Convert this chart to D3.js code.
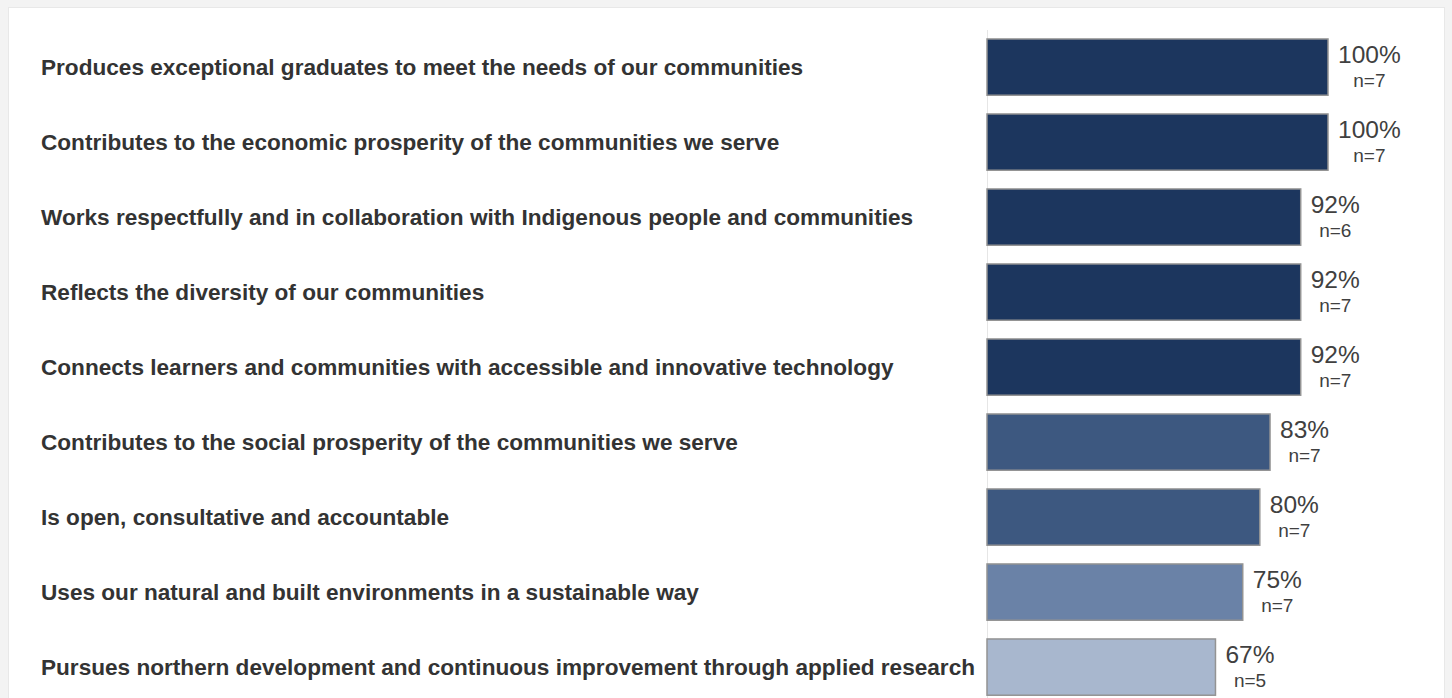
<!DOCTYPE html>
<html>
<head>
<meta charset="utf-8">
<script src="https://cdn.jsdelivr.net/npm/d3@7"></script>
<style>
  html, body { margin: 0; padding: 0; background: #f3f3f3; }
  svg { display: block; }
</style>
</head>
<body>
<script>
// Survey statements, share agreeing, and number of respondents
const categories = [
  "Produces exceptional graduates to meet the needs of our communities",
  "Contributes to the economic prosperity of the communities we serve",
  "Works respectfully and in collaboration with Indigenous people and communities",
  "Reflects the diversity of our communities",
  "Connects learners and communities with accessible and innovative technology",
  "Contributes to the social prosperity of the communities we serve",
  "Is open, consultative and accountable",
  "Uses our natural and built environments in a sustainable way",
  "Pursues northern development and continuous improvement through applied research"
];
const values = [100, 100, 92, 92, 92, 83, 80, 75, 67];
const counts = [7, 7, 6, 7, 7, 7, 7, 7, 5];

const W = 1452, H = 698;
const svg = d3.select("body").append("svg").attr("width", W).attr("height", H);

// white card on a light grey page
svg.append("rect")
  .attr("x", 8.5).attr("y", 7.5)
  .attr("width", 1436).attr("height", H)
  .attr("fill", "#ffffff")
  .attr("stroke", "#e8e8e8").attr("stroke-width", 1);

const data = categories.map((c, i) => ({ c, v: values[i], n: counts[i] }));

const x = d3.scaleLinear().domain([0, 100]).range([987, 1328]);
const y = d3.scaleBand().domain(categories).range([29.6, 704.6])
  .paddingInner(0.25).paddingOuter(0.125);

// colour steps by score
const colour = v => v >= 90 ? "#1c365e" : v >= 80 ? "#3d5880" : v >= 70 ? "#6a82a7" : "#a8b7ce";

// category axis line
svg.append("line")
  .attr("x1", x(0) + 0.5).attr("x2", x(0) + 0.5)
  .attr("y1", 30).attr("y2", H)
  .attr("stroke", "#e6e6e6").attr("stroke-width", 1);

svg.append("g").selectAll("rect").data(data).join("rect")
  .attr("x", x(0))
  .attr("y", d => y(d.c))
  .attr("width", d => x(d.v) - x(0))
  .attr("height", y.bandwidth())
  .attr("fill", d => colour(d.v))
  .attr("stroke", "#939393")
  .attr("stroke-width", 1.5);

// statement labels
svg.append("g").selectAll("text").data(data).join("text")
  .attr("x", 41)
  .attr("y", d => y(d.c) + y.bandwidth() / 2)
  .attr("dy", "0.35em")
  .attr("font-family", "Liberation Sans, Arial, sans-serif")
  .attr("font-weight", "bold")
  .attr("font-size", 22.6)
  .attr("fill", "#333333")
  .text(d => d.c);

// value + respondent count labels
const lab = svg.append("g").selectAll("g").data(data).join("g");
lab.each(function(d) {
  const g = d3.select(this);
  const x0 = x(d.v) + 10;
  const top = y(d.c);
  const pct = g.append("text")
    .attr("x", x0).attr("y", top + 24)
    .attr("font-family", "Liberation Sans, Arial, sans-serif")
    .attr("font-size", 24.5)
    .attr("fill", "#404040")
    .text(d.v + "%");
  const w = pct.node().getComputedTextLength();
  g.append("text")
    .attr("x", x0 + w / 2).attr("y", top + 48)
    .attr("text-anchor", "middle")
    .attr("font-family", "Liberation Sans, Arial, sans-serif")
    .attr("font-size", 19)
    .attr("fill", "#404040")
    .text("n=" + d.n);
});
</script>
</body>
</html>
